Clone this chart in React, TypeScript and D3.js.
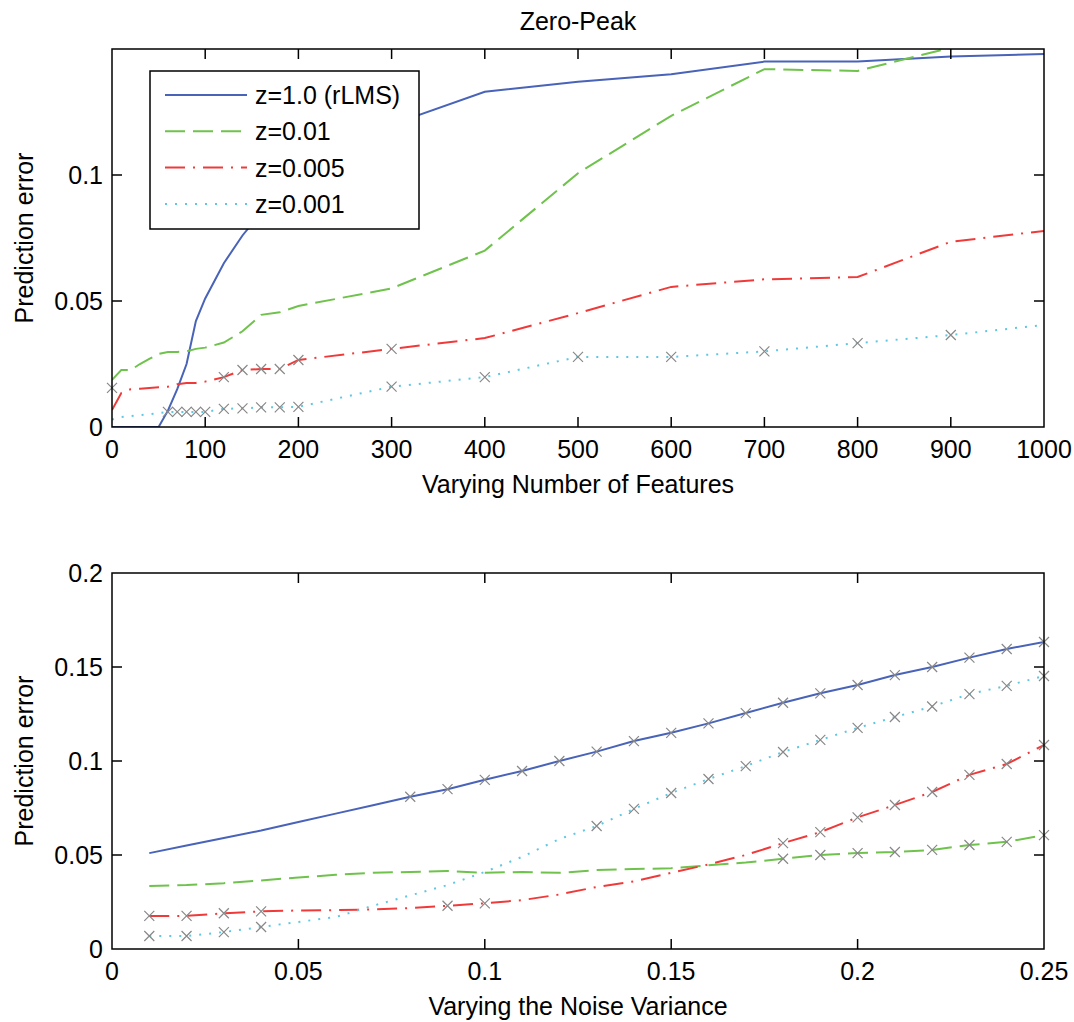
import React from "react";
import * as d3 from "d3";

// ---------- data ----------
const topX = [0, 10, 20, 30, 40, 50, 60, 70, 80, 90, 100, 120, 140, 160, 180, 200, 300, 400, 500, 600, 700, 800, 900, 1000];
const blueTop = [0, 0, 0, 0, 0, 0, 0.0065, 0.015, 0.025, 0.042, 0.051, 0.065, 0.076, 0.085, 0.092, 0.098, 0.12, 0.133, 0.137, 0.14, 0.145, 0.145, 0.147, 0.148];
const greenTop = [0.0187, 0.0226, 0.0226, 0.025, 0.027, 0.029, 0.0298, 0.0298, 0.03, 0.031, 0.0315, 0.0335, 0.038, 0.0445, 0.0455, 0.048, 0.055, 0.07, 0.1007, 0.1235, 0.142, 0.1413, 0.1505, 0.158];
const redTop = [0.0067, 0.0135, 0.015, 0.0152, 0.0155, 0.0158, 0.016, 0.017, 0.0175, 0.0175, 0.018, 0.0198, 0.0226, 0.023, 0.023, 0.0266, 0.031, 0.0353, 0.0452, 0.0556, 0.0586, 0.0595, 0.0735, 0.0778];
const cyanTop = [0.003, 0.004, 0.0043, 0.0047, 0.005, 0.0055, 0.006, 0.006, 0.006, 0.006, 0.006, 0.0072, 0.0074, 0.0078, 0.0078, 0.008, 0.016, 0.0198, 0.0278, 0.0278, 0.03, 0.0333, 0.0365, 0.0405];
const topRedMarkers = [120, 140, 160, 180, 200, 300];
const topCyanMarkers = [60, 70, 80, 90, 100, 120, 140, 160, 180, 200, 300, 400, 500, 600, 700, 800, 900];
const topExtraMarkers: [number, number][] = [[0, 0.0155]];
const topXTicks = [0, 100, 200, 300, 400, 500, 600, 700, 800, 900, 1000];
const topYTicks = [0, 0.05, 0.1];

const botX = [0.01, 0.02, 0.03, 0.04, 0.05, 0.06, 0.07, 0.08, 0.09, 0.1, 0.11, 0.12, 0.13, 0.14, 0.15, 0.16, 0.17, 0.18, 0.19, 0.2, 0.21, 0.22, 0.23, 0.24, 0.25];
const blueBot = [0.051, 0.055, 0.059, 0.063, 0.0675, 0.072, 0.0765, 0.081, 0.085, 0.09, 0.0947, 0.1, 0.105, 0.1106, 0.115, 0.12, 0.1255, 0.131, 0.136, 0.1404, 0.1457, 0.15, 0.155, 0.1596, 0.1633];
const greenBot = [0.0335, 0.034, 0.035, 0.0365, 0.038, 0.0395, 0.0405, 0.041, 0.0415, 0.0405, 0.041, 0.0405, 0.042, 0.0425, 0.043, 0.0445, 0.046, 0.048, 0.05, 0.051, 0.0516, 0.0527, 0.0553, 0.057, 0.0606];
const redBot = [0.0176, 0.0176, 0.019, 0.02, 0.0205, 0.0207, 0.021, 0.0218, 0.023, 0.0243, 0.026, 0.029, 0.033, 0.036, 0.0405, 0.045, 0.05, 0.0563, 0.0622, 0.07, 0.0766, 0.0835, 0.0926, 0.0984, 0.1085];
const cyanBot = [0.0069, 0.0069, 0.009, 0.0117, 0.0144, 0.017, 0.023, 0.0285, 0.034, 0.041, 0.049, 0.0585, 0.0654, 0.0745, 0.083, 0.0904, 0.0973, 0.1048, 0.1112, 0.1176, 0.1234, 0.129, 0.1356, 0.14, 0.1452];
const botBlueMarkers = [0.08, 0.09, 0.1, 0.11, 0.12, 0.13, 0.14, 0.15, 0.16, 0.17, 0.18, 0.19, 0.2, 0.21, 0.22, 0.23, 0.24, 0.25];
const botGreenMarkers = [0.18, 0.19, 0.2, 0.21, 0.22, 0.23, 0.24, 0.25];
const botRedMarkers = [0.01, 0.02, 0.03, 0.04, 0.09, 0.1, 0.18, 0.19, 0.2, 0.21, 0.22, 0.23, 0.24, 0.25];
const botCyanMarkers = [0.01, 0.02, 0.03, 0.04, 0.13, 0.14, 0.15, 0.16, 0.17, 0.18, 0.19, 0.2, 0.21, 0.22, 0.23, 0.24, 0.25];
const botXTicks = [0, 0.05, 0.1, 0.15, 0.2, 0.25];
const botYTicks = [0, 0.05, 0.1, 0.15, 0.2];

const legendLabels = ["z=1.0 (rLMS)", "z=0.01", "z=0.005", "z=0.001"];

// ---------- styles ----------
const FONT = "'Liberation Sans', Arial, sans-serif";
const FS = 25;
const seriesStyle = [
  { color: "#4863b8", dash: "none" },
  { color: "#6fc24c", dash: "20,8" },
  { color: "#f03a3a", dash: "20,8,2,8" },
  { color: "#5ec8e2", dash: "2,8" },
];
const MARKER = "#888888";

const W = 1074, H = 1022;
const L = 112, R = 1044;

function Marker({ x, y }: { x: number; y: number }) {
  const s = 5;
  return (
    <path d={`M${x - s},${y - s}L${x + s},${y + s}M${x - s},${y + s}L${x + s},${y - s}`} stroke={MARKER} strokeWidth={1.2} fill="none" />
  );
}

function fmt(v: number) {
  return String(+v.toFixed(3));
}

function Panel(props: {
  id: string;
  top: number;
  bottom: number;
  xDomain: [number, number];
  yDomain: [number, number];
  xs: number[];
  series: number[][];
  markers: number[][];
  extra: [number, number][];
  xTicks: number[];
  yTicks: number[];
  xLabel: string;
  title?: string;
  legend?: boolean;
}) {
  const { id, top, bottom, xDomain, yDomain, xs, series, markers, extra, xTicks, yTicks, xLabel, title, legend } = props;
  const x = d3.scaleLinear().domain(xDomain).range([L, R]);
  const y = d3.scaleLinear().domain(yDomain).range([bottom, top]);
  const line = d3
    .line<number>()
    .x((_, i) => x(xs[i]))
    .y((d) => y(d));
  const tl = 10;
  const rightTicks = yTicks.filter((t) => y(t) > top + 2 && y(t) < bottom - 2);
  const topTicks = xTicks.filter((t) => x(t) > L + 2 && x(t) < R - 2);
  return (
    <g>
      <defs>
        <clipPath id={id}>
          <rect x={L} y={top} width={R - L} height={bottom - top} />
        </clipPath>
      </defs>
      <rect x={L} y={top} width={R - L} height={bottom - top} fill="#fff" />
      <g clipPath={`url(#${id})`}>
        {series.map((s, si) => (
          <path
            key={si}
            d={line(s) || ""}
            fill="none"
            stroke={seriesStyle[si].color}
            strokeWidth={2}
            strokeDasharray={seriesStyle[si].dash}
          />
        ))}
      </g>
      {markers.map((ms, si) =>
        ms.map((mx, k) => {
          const idx = xs.findIndex((v) => Math.abs(v - mx) < 1e-9);
          return <Marker key={`${si}-${k}`} x={x(mx)} y={y(series[si][idx])} />;
        })
      )}
      {extra.map((p, k) => (
        <Marker key={`e${k}`} x={x(p[0])} y={y(p[1])} />
      ))}
      {/* frame */}
      <rect x={L} y={top} width={R - L} height={bottom - top} fill="none" stroke="#000" strokeWidth={1.5} />
      {/* ticks */}
      {topTicks.map((t) => (
        <g key={`xt${t}`}>
          <line x1={x(t)} x2={x(t)} y1={bottom} y2={bottom - tl} stroke="#000" strokeWidth={1.5} />
          <line x1={x(t)} x2={x(t)} y1={top} y2={top + tl} stroke="#000" strokeWidth={1.5} />
        </g>
      ))}
      {rightTicks.map((t) => (
        <g key={`yt${t}`}>
          <line x1={L} x2={L + tl} y1={y(t)} y2={y(t)} stroke="#000" strokeWidth={1.5} />
          <line x1={R} x2={R - tl} y1={y(t)} y2={y(t)} stroke="#000" strokeWidth={1.5} />
        </g>
      ))}
      {xTicks.map((t) => (
        <text key={`xl${t}`} x={x(t)} y={bottom + 31} textAnchor="middle" fontFamily={FONT} fontSize={FS} fill="#000">
          {fmt(t)}
        </text>
      ))}
      {yTicks.map((t) => (
        <text key={`yl${t}`} x={L - 9} y={y(t) + 9} textAnchor="end" fontFamily={FONT} fontSize={FS} fill="#000">
          {fmt(t)}
        </text>
      ))}
      <text x={(L + R) / 2} y={bottom + 66} textAnchor="middle" fontFamily={FONT} fontSize={FS} fill="#000">
        {xLabel}
      </text>
      <text
        transform={`translate(33,${(top + bottom) / 2}) rotate(-90)`}
        textAnchor="middle"
        fontFamily={FONT}
        fontSize={FS}
        fill="#000"
      >
        Prediction error
      </text>
      {title && (
        <text x={(L + R) / 2} y={top - 19} textAnchor="middle" fontFamily={FONT} fontSize={FS} fill="#000">
          {title}
        </text>
      )}
      {legend && (
        <g>
          <rect x={150} y={71} width={269} height={158} fill="#fff" stroke="#000" strokeWidth={1.5} />
          {legendLabels.map((lab, i) => {
            const cy = 95 + i * 36.3;
            return (
              <g key={lab}>
                <line
                  x1={165}
                  x2={247}
                  y1={cy}
                  y2={cy}
                  stroke={seriesStyle[i].color}
                  strokeWidth={2}
                  strokeDasharray={seriesStyle[i].dash}
                />
                <text x={255} y={cy + 9} fontFamily={FONT} fontSize={FS} fill="#000">
                  {lab}
                </text>
              </g>
            );
          })}
        </g>
      )}
    </g>
  );
}

export default function App() {
  return (
    <svg width={W} height={H} style={{ position: "absolute", left: 0, top: 0, background: "#fff" }}>
      <rect width={W} height={H} fill="#fff" />
      <Panel
        id="clipTop"
        top={49}
        bottom={427}
        xDomain={[0, 1000]}
        yDomain={[0, 0.15]}
        xs={topX}
        series={[blueTop, greenTop, redTop, cyanTop]}
        markers={[[], [], topRedMarkers, topCyanMarkers]}
        extra={topExtraMarkers}
        xTicks={topXTicks}
        yTicks={topYTicks}
        xLabel="Varying Number of Features"
        title="Zero-Peak"
        legend
      />
      <Panel
        id="clipBot"
        top={573}
        bottom={949}
        xDomain={[0, 0.25]}
        yDomain={[0, 0.2]}
        xs={botX}
        series={[blueBot, greenBot, redBot, cyanBot]}
        markers={[botBlueMarkers, botGreenMarkers, botRedMarkers, botCyanMarkers]}
        extra={[]}
        xTicks={botXTicks}
        yTicks={botYTicks}
        xLabel="Varying the Noise Variance"
      />
    </svg>
  );
}
